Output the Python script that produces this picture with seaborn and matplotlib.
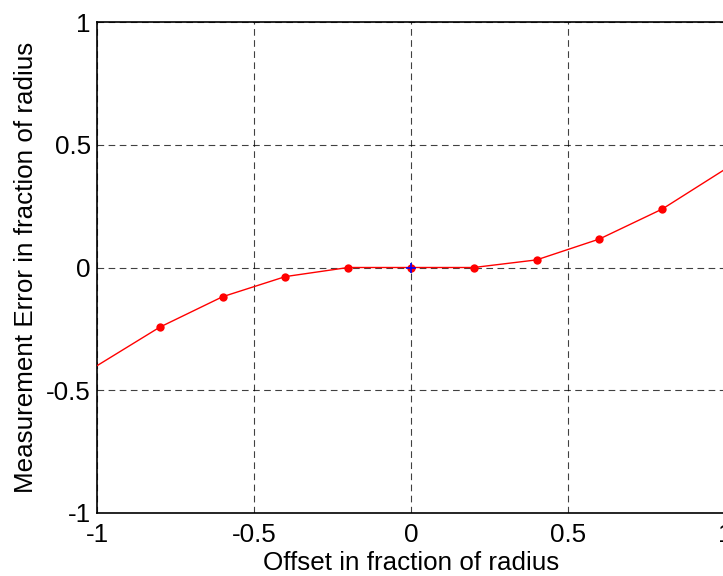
import numpy as np
import pandas as pd
import matplotlib
matplotlib.use("Agg")
import matplotlib.pyplot as plt
import seaborn as sns

# values
offset_line = [-1.0, -0.8, -0.6, -0.4, -0.2, 0.0, 0.2, 0.4, 0.6, 0.8, 1.0]
error_line = [-0.40, -0.243, -0.119, -0.037, 0.0, 0.0, 0.0, 0.031, 0.116, 0.238, 0.40]
offset_pts = [-0.8, -0.6, -0.4, -0.2, 0.0, 0.2, 0.4, 0.6, 0.8]
error_pts = [-0.243, -0.119, -0.037, 0.0, 0.0, 0.0, 0.031, 0.116, 0.238]
center_x = [0.0]
center_y = [0.0]
ticks = [-1, -0.5, 0, 0.5, 1]
tick_labels = ["-1", "-0.5", "0", "0.5", "1"]

sns.set_style("white")
plt.rcParams['font.family'] = ['Liberation Sans', 'DejaVu Sans']
plt.rcParams['text.color'] = 'black'
plt.rcParams['axes.labelcolor'] = 'black'
plt.rcParams['xtick.color'] = 'black'
plt.rcParams['ytick.color'] = 'black'

line_df = pd.DataFrame({'Offset': offset_line, 'Error': error_line})
pts_df = pd.DataFrame({'Offset': offset_pts, 'Error': error_pts})

fig = plt.figure(figsize=(7.23, 5.76), dpi=100)
ax = fig.add_axes([97 / 723, 63 / 576, 628 / 723, 491 / 576])

sns.lineplot(x='Offset', y='Error', data=line_df, ax=ax, color='red', linewidth=1.0, zorder=3)
sns.scatterplot(x='Offset', y='Error', data=pts_df, ax=ax, color='red', s=36,
                edgecolor='red', linewidth=0, zorder=4)
ax.plot(center_x, center_y, marker='+', color='blue', markersize=7, mew=1.2,
        linestyle='none', zorder=5)

ax.set_xlim(-1, 1)
ax.set_ylim(-1, 1)
ax.set_xticks(ticks)
ax.set_xticklabels(tick_labels)
ax.set_yticks(ticks)
ax.set_yticklabels(tick_labels)
ax.tick_params(axis='both', labelsize=18.7, length=0)
ax.tick_params(axis='x', pad=7)
ax.tick_params(axis='y', pad=4.5)
ax.grid(True, color='black', linestyle=(0, (6, 4)), linewidth=0.8, alpha=0.75)
for s in ax.spines.values():
    s.set_color('black')
    s.set_linewidth(1.2)

ax.set_xlabel("Offset in fraction of radius", fontsize=18.7, labelpad=3)
ax.set_ylabel("Measurement Error in fraction of radius", fontsize=18.7, labelpad=5.5)

fig.savefig("out.png", dpi=100)
